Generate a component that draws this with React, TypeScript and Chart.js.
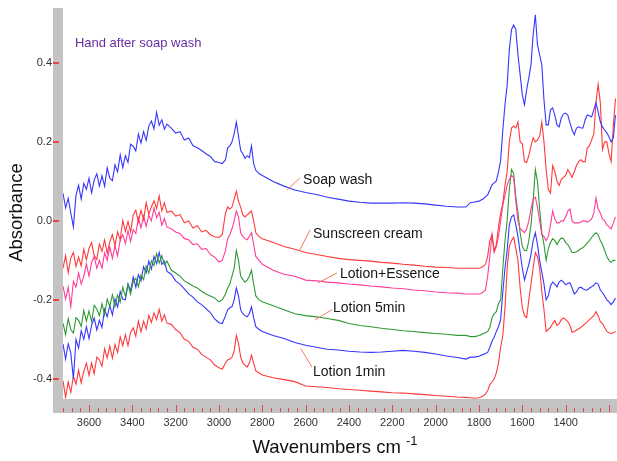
import { useEffect, useRef } from 'react';
import { Chart, registerables } from 'chart.js';
Chart.register(...registerables);

// Wavenumber grid (cm-1) shared by all spectra
const wavenumbers = [
  3720, 3708, 3696, 3684, 3672, 3660, 3648, 3636, 3624, 3612,
  3600, 3588, 3576, 3564, 3552, 3540, 3528, 3516, 3504, 3492,
  3480, 3468, 3456, 3444, 3432, 3420, 3408, 3396, 3384, 3372,
  3360, 3348, 3336, 3324, 3312, 3300, 3288, 3276, 3264, 3252,
  3240,
  3220, 3200, 3180, 3160, 3140, 3120, 3100, 3080, 3060, 3040, 3020, 3000,
  2985, 2970, 2960, 2950, 2940, 2930, 2920, 2910, 2900, 2890, 2880, 2870, 2860, 2850, 2840, 2830, 2815, 2800,
  2750, 2700, 2650, 2600, 2550, 2500, 2450, 2400, 2350, 2300, 2250, 2200, 2150, 2100, 2050, 2000, 1950, 1900, 1860,
  1840, 1820, 1800, 1790, 1780, 1770, 1760, 1750, 1740, 1730,
  1720, 1710, 1700, 1690, 1680, 1670, 1660, 1650, 1640, 1630,
  1620, 1610, 1600, 1590, 1580, 1570, 1560, 1550, 1540, 1530,
  1520, 1510, 1500, 1490, 1480, 1470, 1460, 1450, 1440, 1430,
  1420, 1410, 1400, 1390, 1380, 1370, 1360, 1350, 1340, 1330,
  1320, 1310, 1300, 1290, 1280, 1270, 1260, 1250, 1240, 1230,
  1220, 1210, 1200, 1190, 1180, 1170,
];

const soapWash = [
  0.07, 0.033, 0.057, 0.02, -0.015, 0.065, 0.09, 0.055, 0.095, 0.08,
  0.108, 0.071, 0.104, 0.119, 0.088, 0.114, 0.088, 0.134, 0.108, 0.102,
  0.142, 0.124, 0.167, 0.135, 0.165, 0.148, 0.194, 0.189, 0.177, 0.22,
  0.197, 0.226, 0.204, 0.24, 0.253, 0.233, 0.275, 0.242, 0.256, 0.232,
  0.245,
  0.235, 0.222, 0.226, 0.205, 0.21, 0.19, 0.185, 0.178, 0.17, 0.163, 0.15, 0.148,
  0.145, 0.155, 0.185, 0.19, 0.2, 0.22, 0.25, 0.215, 0.178, 0.17, 0.158, 0.165, 0.16, 0.19, 0.145, 0.128, 0.12, 0.115,
  0.1, 0.088, 0.078, 0.072, 0.067, 0.06, 0.055, 0.05, 0.047, 0.045, 0.045, 0.045, 0.046, 0.045, 0.043, 0.04, 0.037, 0.035, 0.035,
  0.046, 0.048, 0.05, 0.053, 0.056, 0.061, 0.066, 0.078, 0.091, 0.096,
  0.101, 0.124, 0.154, 0.23, 0.294, 0.344, 0.433, 0.484, 0.496, 0.484,
  0.42, 0.37, 0.319, 0.294, 0.332, 0.362, 0.395, 0.471, 0.522, 0.446,
  0.42, 0.395, 0.306, 0.243, 0.243, 0.281, 0.286, 0.268, 0.243, 0.238,
  0.261, 0.271, 0.273, 0.268, 0.248, 0.23, 0.218, 0.235, 0.238, 0.235,
  0.235, 0.256, 0.268, 0.266, 0.263, 0.281, 0.299, 0.276, 0.251, 0.238,
  0.23, 0.223, 0.213, 0.2, 0.21, 0.268,
];

const sunscreenCream = [
  -0.12, -0.088, -0.131, -0.094, -0.08, -0.115, -0.092, -0.114, -0.072, -0.098,
  -0.07, -0.055, -0.088, -0.098, -0.059, -0.077, -0.048, -0.082, -0.053, -0.035,
  -0.062, -0.028, -0.048, 0.001, -0.027, -0.002, -0.028, 0.015, 0.027, -0.002,
  0.027, 0.003, 0.046, 0.017, 0.036, 0.051, 0.031, 0.063, 0.025, 0.046,
  0.021,
  0.025, 0.012, 0.016, -0.005, 0.0, -0.018, -0.012, -0.028, -0.024, -0.035, -0.04, -0.042,
  -0.035, 0.02, 0.035, 0.03, 0.035, 0.055, 0.075, 0.05, 0.035, 0.015, 0.01, 0.015, 0.02, 0.025, 0.0, -0.03, -0.04, -0.045,
  -0.055, -0.065, -0.072, -0.08, -0.085, -0.09, -0.095, -0.098, -0.1, -0.102, -0.105, -0.107, -0.11, -0.112, -0.115, -0.117, -0.118, -0.12, -0.12,
  -0.12, -0.12, -0.12, -0.118, -0.115, -0.11, -0.09, -0.05, -0.035, -0.075,
  -0.06, -0.015, 0.02, 0.045, 0.09, 0.125, 0.2, 0.235, 0.24, 0.235,
  0.25, 0.2, 0.195, 0.15, 0.148, 0.165, 0.19, 0.21, 0.2, 0.205,
  0.215, 0.25, 0.2, 0.13, 0.08, 0.07, 0.14, 0.125, 0.1, 0.09,
  0.105, 0.11, 0.115, 0.13, 0.12, 0.11, 0.125, 0.14, 0.15, 0.155,
  0.15, 0.15, 0.185, 0.19, 0.205, 0.22, 0.3, 0.345, 0.3, 0.18,
  0.2, 0.2, 0.17, 0.15, 0.24, 0.31,
];

const lotionEssence = [
  -0.165, -0.198, -0.168, -0.217, -0.153, -0.168, -0.132, -0.16, -0.14, -0.109,
  -0.14, -0.106, -0.09, -0.12, -0.1, -0.12, -0.081, -0.1, -0.066, -0.095,
  -0.063, -0.089, -0.048, -0.035, -0.057, -0.025, -0.052, -0.022, -0.032, 0.007,
  -0.018, 0.012, -0.014, 0.014, 0.0, 0.033, 0.008, 0.022, -0.011, 0.006,
  -0.016,
  -0.02, -0.028, -0.032, -0.045, -0.048, -0.06, -0.058, -0.072, -0.07, -0.085, -0.092, -0.104,
  -0.1, -0.075, -0.045, -0.035, -0.02, 0.0, 0.025, 0.01, -0.03, -0.04, -0.045, -0.048, -0.04, -0.03, -0.06, -0.09, -0.1, -0.11,
  -0.125, -0.135, -0.14, -0.15, -0.152, -0.155, -0.157, -0.16, -0.162, -0.165, -0.167, -0.17, -0.172, -0.175, -0.177, -0.18, -0.182, -0.183, -0.185,
  -0.185, -0.185, -0.185, -0.183, -0.18, -0.175, -0.14, -0.09, -0.035, -0.08,
  -0.065, -0.04, 0.0, 0.04, 0.065, 0.09, 0.105, 0.115, 0.11, 0.05,
  0.0, -0.02, -0.025, -0.03, -0.02, 0.0, 0.03, 0.055, 0.06, 0.035,
  0.0, -0.035, -0.04, -0.05, -0.04, -0.01, 0.025, 0.005, -0.005, -0.005,
  0.0, 0.0, 0.01, 0.025, 0.03, 0.0, -0.005, -0.005, -0.005, -0.003,
  0.0, 0.0, -0.003, 0.0, 0.005, 0.02, 0.058, 0.03, 0.02, 0.005,
  0.0, -0.01, -0.015, -0.02, -0.005, 0.01,
];

const lotion5min = [
  -0.259, -0.288, -0.248, -0.275, -0.284, -0.245, -0.252, -0.267, -0.227, -0.254,
  -0.228, -0.255, -0.214, -0.223, -0.24, -0.21, -0.238, -0.198, -0.216, -0.187,
  -0.217, -0.188, -0.206, -0.168, -0.191, -0.16, -0.186, -0.153, -0.145, -0.167,
  -0.137, -0.149, -0.115, -0.132, -0.101, -0.113, -0.083, -0.107, -0.088, -0.111,
  -0.102,
  -0.125, -0.132, -0.14, -0.152, -0.158, -0.165, -0.17, -0.178, -0.185, -0.19, -0.195, -0.205,
  -0.2, -0.185, -0.17, -0.16, -0.14, -0.12, -0.075, -0.1, -0.14, -0.148, -0.155, -0.15, -0.14, -0.125, -0.16, -0.19, -0.2, -0.205,
  -0.215, -0.225, -0.235, -0.24, -0.243, -0.247, -0.252, -0.26, -0.265, -0.268, -0.272, -0.275, -0.278, -0.28, -0.283, -0.285, -0.287, -0.29, -0.29,
  -0.293, -0.293, -0.29, -0.288, -0.285, -0.283, -0.28, -0.27, -0.245, -0.235,
  -0.23, -0.21, -0.2, -0.12, -0.05, 0.0, 0.08, 0.13, 0.12, 0.06,
  0.02, -0.03, -0.065, -0.075, -0.075, -0.05, -0.01, 0.05, 0.13, 0.1,
  0.03, -0.03, -0.06, -0.1, -0.07, -0.055, -0.045, -0.05, -0.06, -0.05,
  -0.043, -0.045, -0.055, -0.06, -0.07, -0.08, -0.08, -0.078, -0.075, -0.07,
  -0.068, -0.062, -0.056, -0.05, -0.042, -0.035, -0.03, -0.035, -0.05, -0.06,
  -0.075, -0.09, -0.1, -0.105, -0.1, -0.1,
];

const lotion1min = [
  -0.312, -0.35, -0.311, -0.335, -0.4, -0.3, -0.322, -0.278, -0.3, -0.268,
  -0.298, -0.264, -0.246, -0.276, -0.252, -0.27, -0.224, -0.243, -0.214, -0.238,
  -0.198, -0.218, -0.179, -0.198, -0.2, -0.16, -0.177, -0.142, -0.168, -0.136,
  -0.152, -0.116, -0.132, -0.102, -0.122, -0.09, -0.108, -0.08, -0.11, -0.102,
  -0.128,
  -0.135, -0.152, -0.16, -0.172, -0.185, -0.193, -0.205, -0.212, -0.222, -0.232, -0.248, -0.258,
  -0.26, -0.24, -0.225, -0.22, -0.217, -0.2, -0.17, -0.19, -0.225, -0.235, -0.24, -0.243, -0.235, -0.218, -0.245, -0.268, -0.275, -0.28,
  -0.29, -0.298, -0.308, -0.315, -0.32, -0.325, -0.327, -0.33, -0.332, -0.333, -0.332, -0.33, -0.328, -0.33, -0.333, -0.337, -0.342, -0.346, -0.35,
  -0.345, -0.345, -0.343, -0.34, -0.338, -0.336, -0.333, -0.32, -0.305, -0.295,
  -0.28, -0.268, -0.25, -0.18, -0.12, -0.075, -0.01, 0.01, 0.015, -0.01,
  -0.04, -0.08, -0.12, -0.15, -0.13, -0.11, -0.085, -0.05, -0.03, -0.06,
  -0.1, -0.13, -0.16, -0.2, -0.19, -0.165, -0.155, -0.16, -0.167, -0.155,
  -0.15, -0.155, -0.162, -0.158, -0.157, -0.17, -0.185, -0.18, -0.17, -0.168,
  -0.172, -0.175, -0.175, -0.17, -0.167, -0.163, -0.157, -0.16, -0.175, -0.182,
  -0.19, -0.2, -0.205, -0.212, -0.205, -0.195,
];

const baselineSpectrum = [
  -0.405, -0.447, -0.408, -0.434, -0.394, -0.413, -0.378, -0.41, -0.381, -0.36,
  -0.391, -0.36, -0.387, -0.345, -0.352, -0.368, -0.324, -0.347, -0.317, -0.348,
  -0.313, -0.333, -0.294, -0.316, -0.288, -0.316, -0.282, -0.271, -0.292, -0.254,
  -0.281, -0.254, -0.274, -0.239, -0.257, -0.233, -0.25, -0.224, -0.254, -0.238,
  -0.259,
  -0.262, -0.275, -0.283, -0.3, -0.305, -0.32, -0.325, -0.338, -0.345, -0.352, -0.365, -0.372,
  -0.375, -0.36, -0.352, -0.35, -0.345, -0.33, -0.29, -0.31, -0.345, -0.36, -0.365, -0.37, -0.36, -0.34, -0.36, -0.38, -0.385, -0.39,
  -0.397, -0.402, -0.407, -0.418, -0.42, -0.422, -0.425, -0.427, -0.429, -0.431, -0.433, -0.435, -0.436, -0.438, -0.44, -0.442, -0.444, -0.446, -0.447,
  -0.448, -0.449, -0.448, -0.446, -0.443, -0.438, -0.43, -0.415, -0.408, -0.4,
  -0.385, -0.36, -0.32, -0.29, -0.22, -0.12, -0.065, -0.05, -0.042, -0.07,
  -0.1, -0.17, -0.22, -0.24, -0.245, -0.2, -0.16, -0.12, -0.08, -0.09,
  -0.12, -0.18, -0.225, -0.28, -0.275, -0.27, -0.26, -0.252, -0.265, -0.26,
  -0.25, -0.246, -0.25, -0.255, -0.265, -0.282, -0.28, -0.277, -0.273, -0.27,
  -0.265, -0.26, -0.255, -0.25, -0.245, -0.24, -0.23, -0.24, -0.255, -0.26,
  -0.27, -0.28, -0.283, -0.285, -0.283, -0.28,
];

const seriesNames = ['Soap wash', 'Sunscreen cream', 'Lotion+Essence', 'Lotion 5min', 'Lotion 1min', 'Reference'];
const seriesValues = [soapWash, sunscreenCream, lotionEssence, lotion5min, lotion1min, baselineSpectrum];
const seriesColors = ['#3636ff', '#ff3a3a', '#ff3c9a', '#2f9a34', '#3636ff', '#ff3a3a'];

const xLabelTicks = [3600, 3400, 3200, 3000, 2800, 2600, 2400, 2200, 2000, 1800, 1600, 1400];
const yLabelTicks = [-0.4, -0.2, 0.0, 0.2, 0.4];

const chartTitle = 'Hand after soap wash';
const xTitle = 'Wavenumbers cm';
const xTitleSup = '-1';
const yTitle = 'Absorbance';

// Callout labels anchored in data coordinates [wavenumber, absorbance]
const callouts = [
  { text: 'Soap wash', from: [2686, 0.078], to: [2626, 0.109], at: [2612, 0.104] },
  { text: 'Sunscreen cream', from: [2626, -0.073], to: [2580, -0.023], at: [2566, -0.033] },
  { text: 'Lotion+Essence', from: [2543, -0.157], to: [2455, -0.132], at: [2442, -0.134] },
  { text: 'Lotion 5min', from: [2557, -0.251], to: [2479, -0.225], at: [2474, -0.22] },
  { text: 'Lotion 1min', from: [2622, -0.324], to: [2571, -0.37], at: [2566, -0.382] },
];

const decorPlugin = {
  id: 'decor',
  beforeDraw(chart: any) {
    const { ctx, chartArea } = chart;
    ctx.save();
    ctx.fillStyle = '#c3c3c3';
    ctx.fillRect(chartArea.left - 10, chartArea.top, 10, chartArea.bottom - chartArea.top + 14);
    ctx.fillRect(chartArea.left - 10, chartArea.bottom, chart.width - chartArea.left + 10, 14);
    ctx.restore();
  },
  afterDraw(chart: any) {
    const { ctx, chartArea } = chart;
    const xs = chart.scales.x;
    const ys = chart.scales.y;
    ctx.save();
    // x tick marks
    ctx.strokeStyle = '#e84444';
    ctx.lineWidth = 1;
    for (const t of xs.ticks) {
      const px = Math.round(xs.getPixelForValue(t.value));
      if (px < chartArea.left || px > chart.width) continue;
      const major = Math.round(t.value) % 200 === 0;
      ctx.beginPath();
      ctx.moveTo(px + 0.5, chartArea.bottom + (major ? 6 : 9));
      ctx.lineTo(px + 0.5, chartArea.bottom + 13);
      ctx.stroke();
    }
    // y tick marks
    ctx.lineWidth = 2;
    for (const v of yLabelTicks) {
      const py = Math.round(ys.getPixelForValue(v));
      ctx.beginPath();
      ctx.moveTo(chartArea.left - 10, py);
      ctx.lineTo(chartArea.left - 4, py);
      ctx.stroke();
    }
    // title
    ctx.fillStyle = '#6a2d9f';
    ctx.font = "13px 'Liberation Sans', Arial, sans-serif";
    ctx.textBaseline = 'middle';
    ctx.textAlign = 'left';
    ctx.fillText(chartTitle, xs.getPixelForValue(3665), ys.getPixelForValue(0.45));
    // callouts
    ctx.font = "14px 'Liberation Sans', Arial, sans-serif";
    for (const c of callouts) {
      ctx.strokeStyle = '#f27a5e';
      ctx.lineWidth = 1;
      ctx.beginPath();
      ctx.moveTo(xs.getPixelForValue(c.from[0]), ys.getPixelForValue(c.from[1]));
      ctx.lineTo(xs.getPixelForValue(c.to[0]), ys.getPixelForValue(c.to[1]));
      ctx.stroke();
      ctx.fillStyle = '#151515';
      ctx.fillText(c.text, xs.getPixelForValue(c.at[0]), ys.getPixelForValue(c.at[1]));
    }
    // axis titles
    ctx.fillStyle = '#111';
    ctx.font = "18.5px 'Liberation Sans', Arial, sans-serif";
    const mainW = ctx.measureText(xTitle + ' ').width;
    ctx.font = "13px 'Liberation Sans', Arial, sans-serif";
    const supW = ctx.measureText(xTitleSup).width;
    const cx = 335;
    const startX = cx - (mainW + supW) / 2;
    ctx.font = "18.5px 'Liberation Sans', Arial, sans-serif";
    ctx.textBaseline = 'alphabetic';
    ctx.fillText(xTitle + ' ', startX, 453);
    ctx.font = "13px 'Liberation Sans', Arial, sans-serif";
    ctx.fillText(xTitleSup, startX + mainW, 445);
    ctx.save();
    ctx.font = "18.5px 'Liberation Sans', Arial, sans-serif";
    ctx.translate(17, (chartArea.top + chartArea.bottom) / 2 + 9);
    ctx.rotate(-Math.PI / 2);
    ctx.textAlign = 'center';
    ctx.textBaseline = 'middle';
    ctx.fillText(yTitle, 0, 0);
    ctx.restore();
    ctx.restore();
  },
};

export default function App() {
  const ref = useRef<HTMLCanvasElement | null>(null);
  useEffect(() => {
    if (!ref.current) return;
    Chart.defaults.font.family = "'Liberation Sans', Arial, sans-serif";
    const chart = new Chart(ref.current, {
      type: 'line',
      data: {
        datasets: seriesValues.map((vals, i) => ({
          label: seriesNames[i],
          data: wavenumbers.map((w, j) => ({ x: w, y: vals[j] })),
          borderColor: seriesColors[i],
          borderWidth: 1.1,
          pointRadius: 0,
          tension: 0,
          fill: false,
        })),
      },
      options: {
        animation: false,
        responsive: false,
        maintainAspectRatio: false,
        layout: { padding: { top: 8, right: 0, left: 0, bottom: 0 }, autoPadding: false },
        plugins: { legend: { display: false }, tooltip: { enabled: false } },
        scales: {
          x: {
            type: 'linear',
            reverse: true,
            min: 1163,
            max: 3720,
            grid: { display: false, drawTicks: false },
            border: { display: false },
            afterFit: (s: any) => { s.height = 62; s.paddingLeft = 0; s.paddingRight = 0; },
            ticks: {
              stepSize: 40,
              autoSkip: false,
              maxRotation: 0,
              includeBounds: false,
              padding: 17,
              color: '#333',
              font: { size: 11 },
              callback: (v: any) => (xLabelTicks.includes(Math.round(Number(v))) ? String(Math.round(Number(v))) : ''),
            },
          },
          y: {
            type: 'linear',
            min: -0.451,
            max: 0.539,
            grid: { display: false, drawTicks: false },
            border: { display: false },
            afterFit: (s: any) => { s.width = 63; s.paddingTop = 0; s.paddingBottom = 0; },
            ticks: {
              stepSize: 0.2,
              includeBounds: false,
              padding: 11,
              color: '#333',
              font: { size: 11 },
              callback: (v: any) => Number(v).toFixed(1),
            },
          },
        },
      },
      plugins: [decorPlugin],
    } as any);
    return () => chart.destroy();
  }, []);
  return (
    <div style={{ position: 'fixed', left: 0, top: 0, width: 617, height: 461 }}>
      <canvas ref={ref} width={617} height={461} style={{ display: 'block' }} />
    </div>
  );
}
